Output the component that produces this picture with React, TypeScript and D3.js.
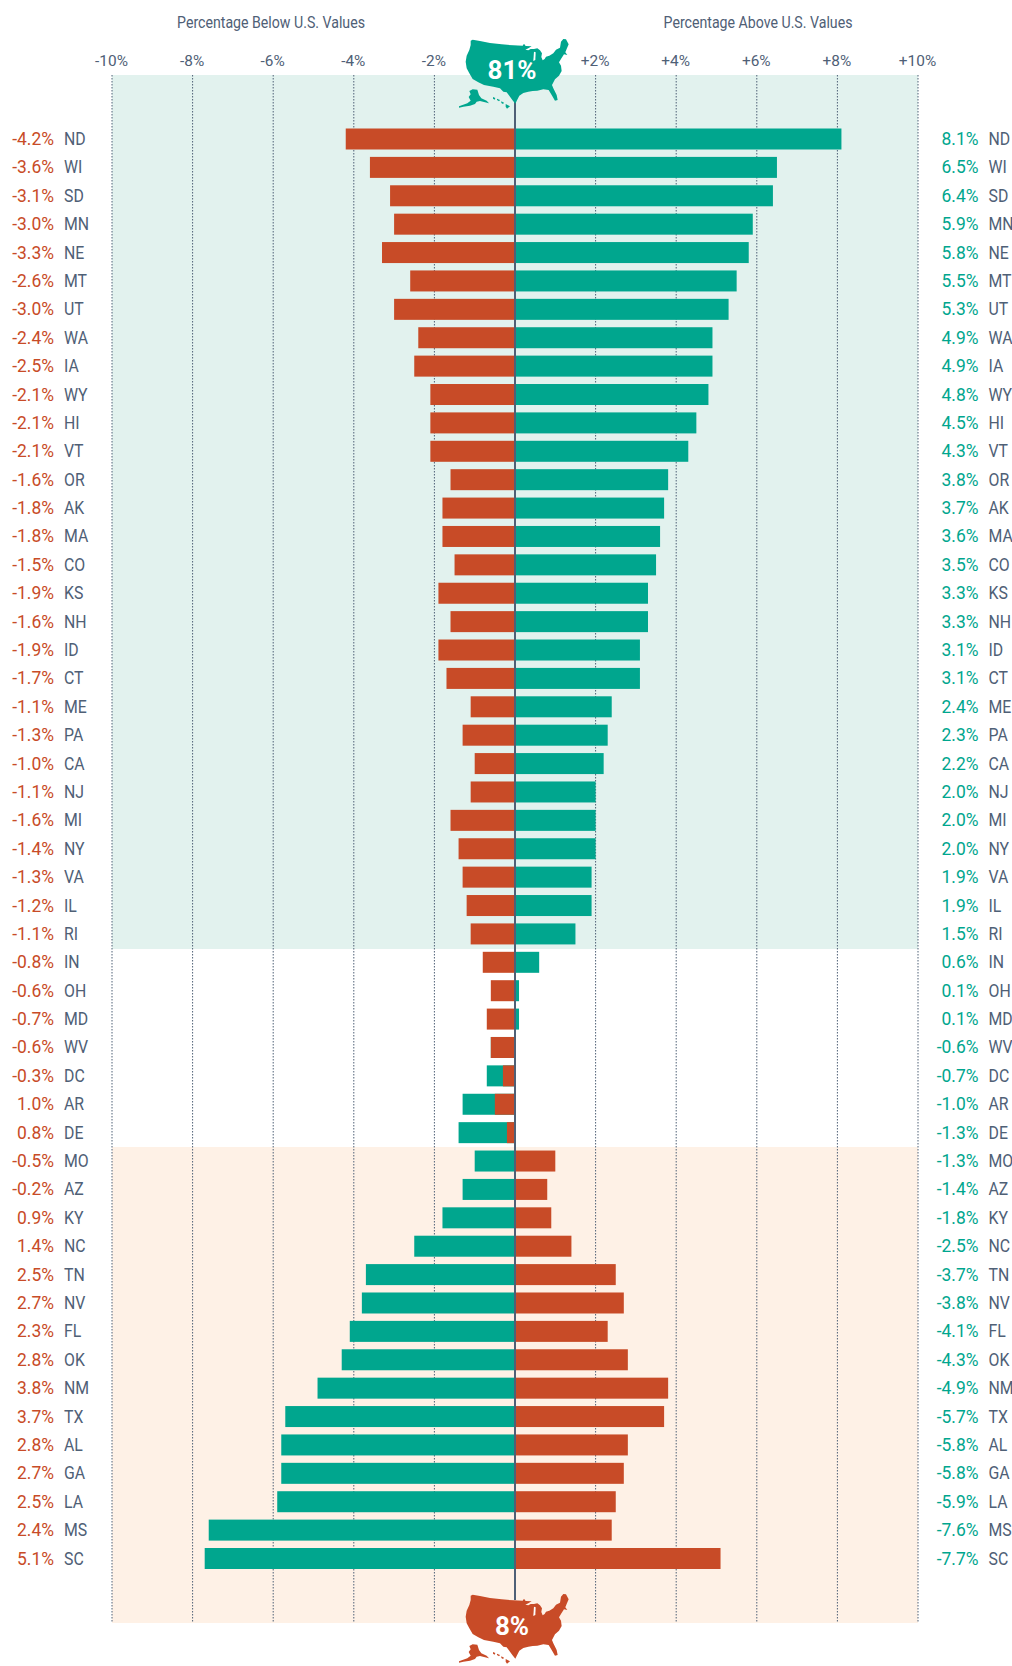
import React from "react";
import * as d3 from "d3";

const states = ["ND","WI","SD","MN","NE","MT","UT","WA","IA","WY","HI","VT","OR","AK","MA","CO","KS","NH","ID","CT","ME","PA","CA","NJ","MI","NY","VA","IL","RI","IN","OH","MD","WV","DC","AR","DE","MO","AZ","KY","NC","TN","NV","FL","OK","NM","TX","AL","GA","LA","MS","SC"];
const leftLabels = ["-4.2%","-3.6%","-3.1%","-3.0%","-3.3%","-2.6%","-3.0%","-2.4%","-2.5%","-2.1%","-2.1%","-2.1%","-1.6%","-1.8%","-1.8%","-1.5%","-1.9%","-1.6%","-1.9%","-1.7%","-1.1%","-1.3%","-1.0%","-1.1%","-1.6%","-1.4%","-1.3%","-1.2%","-1.1%","-0.8%","-0.6%","-0.7%","-0.6%","-0.3%","1.0%","0.8%","-0.5%","-0.2%","0.9%","1.4%","2.5%","2.7%","2.3%","2.8%","3.8%","3.7%","2.8%","2.7%","2.5%","2.4%","5.1%"];
const rightLabels = ["8.1%","6.5%","6.4%","5.9%","5.8%","5.5%","5.3%","4.9%","4.9%","4.8%","4.5%","4.3%","3.8%","3.7%","3.6%","3.5%","3.3%","3.3%","3.1%","3.1%","2.4%","2.3%","2.2%","2.0%","2.0%","2.0%","1.9%","1.9%","1.5%","0.6%","0.1%","0.1%","-0.6%","-0.7%","-1.0%","-1.3%","-1.3%","-1.4%","-1.8%","-2.5%","-3.7%","-3.8%","-4.1%","-4.3%","-4.9%","-5.7%","-5.8%","-5.8%","-5.9%","-7.6%","-7.7%"];
// Bar lengths as drawn (percent); in the AR/DE/MO/AZ rows they differ from the printed labels.
const redBars = [-4.2,-3.6,-3.1,-3.0,-3.3,-2.6,-3.0,-2.4,-2.5,-2.1,-2.1,-2.1,-1.6,-1.8,-1.8,-1.5,-1.9,-1.6,-1.9,-1.7,-1.1,-1.3,-1.0,-1.1,-1.6,-1.4,-1.3,-1.2,-1.1,-0.8,-0.6,-0.7,-0.6,-0.3,-0.5,-0.2,1.0,0.8,0.9,1.4,2.5,2.7,2.3,2.8,3.8,3.7,2.8,2.7,2.5,2.4,5.1];
const greenBars = [8.1,6.5,6.4,5.9,5.8,5.5,5.3,4.9,4.9,4.8,4.5,4.3,3.8,3.7,3.6,3.5,3.3,3.3,3.1,3.1,2.4,2.3,2.2,2.0,2.0,2.0,1.9,1.9,1.5,0.6,0.1,0.1,-0.6,-0.7,-1.3,-1.4,-1.0,-1.3,-1.8,-2.5,-3.7,-3.8,-4.1,-4.3,-4.9,-5.7,-5.8,-5.8,-5.9,-7.6,-7.7];
const ticks = [-10,-8,-6,-4,-2,2,4,6,8,10];

const RED = "#c84b27";
const GREEN = "#00a68e";
const SLATE = "#4f6076";
const FONT = "Roboto, sans-serif";

const x = d3.scaleLinear().domain([-10, 10]).range([112, 918]);
const y = d3.scaleLinear().domain([0, 50]).range([139, 1558.5]);
const BAR_H = 21;

// Icon outlines, traced at 3x and drawn back at 1/3 scale.
const usa: [number, number][] = [[32,17],[38,14],[60,18],[90,24],[125,28],[160,31],[188,32],[192,26],[197,33],[215,34],[205,40],[196,44],[205,46],[212,42],[222,42],[232,40],[240,46],[246,55],[244,66],[248,76],[254,72],[258,65],[268,62],[280,55],[288,44],[300,38],[303,20],[310,12],[318,13],[326,28],[320,42],[316,52],[322,60],[312,58],[303,72],[297,82],[303,92],[305,108],[297,122],[285,133],[276,150],[280,160],[290,180],[293,195],[285,197],[275,180],[266,165],[250,163],[232,167],[218,168],[205,170],[190,174],[178,182],[170,198],[166,206],[157,195],[150,185],[140,172],[130,170],[120,160],[100,155],[72,150],[55,142],[38,132],[28,115],[20,100],[17,80],[20,62],[28,45],[32,30]];
const lake: [number, number][] = [[222,50],[220,78],[226,75],[227,52]];
const alaska: [number, number][] = [[28,168],[38,163],[52,164],[57,180],[64,190],[80,197],[87,205],[72,201],[60,198],[50,200],[45,207],[30,212],[10,215],[-3,218],[-3,214],[22,205],[32,197],[26,186],[32,178]];
const hawaii: [number, number][][] = [
  [[99,186],[106,189],[104,194],[99,191]],
  [[111,191],[120,195],[117,199],[111,195]],
  [[124,199],[132,203],[129,207],[124,204]],
  [[137,207],[150,214],[141,221],[137,215]],
];
const line = d3.line().curve(d3.curveLinearClosed);

function UsaIcon({ ty, fill, label, labelY }: { ty: number; fill: string; label: string; labelY: number }) {
  return (
    <g>
      <g transform={`translate(460,${ty}) scale(0.3333)`} fill={fill}>
        <path d={line(usa) ?? ""} />
        <path d={line(lake) ?? ""} fill="#fff" />
        <path d={line(alaska) ?? ""} />
        {hawaii.map((h, i) => (
          <path key={i} d={line(h) ?? ""} />
        ))}
      </g>
      <text x={512} y={labelY} textAnchor="middle" fill="#fff" fontWeight={700} fontSize={26}>{label}</text>
    </g>
  );
}

function Squeezed({ px, py, size, sx, fill, anchor, children }: { px: number; py: number; size: number; sx: number; fill: string; anchor?: string; children: string }) {
  return (
    <text transform={`translate(${px},${py}) scale(${sx},1)`} textAnchor={anchor} fontSize={size} fill={fill}>{children}</text>
  );
}

export default function App() {
  return (
    <svg width={1012} height={1666} style={{ position: "absolute", left: 0, top: 0, fontFamily: FONT }}>
      <rect x={x(-10)} y={75} width={x(10) - x(-10)} height={874} fill="#e2f2ee" />
      <rect x={x(-10)} y={1147} width={x(10) - x(-10)} height={476} fill="#fef1e6" />
      {ticks.map((t) => (
        <line key={t} x1={x(t)} x2={x(t)} y1={75} y2={1623} stroke={SLATE} strokeWidth={1} strokeDasharray="1.5 1.5" />
      ))}
      {ticks.map((t) => (
        <text key={t} x={x(t) - 0.5} y={66} textAnchor="middle" fontSize={15.4} fill={SLATE}>{t > 0 ? `+${t}%` : `${t}%`}</text>
      ))}
      <Squeezed px={271} py={28} size={16} sx={0.885} fill={SLATE} anchor="middle">Percentage Below U.S. Values</Squeezed>
      <Squeezed px={758} py={28} size={16} sx={0.885} fill={SLATE} anchor="middle">Percentage Above U.S. Values</Squeezed>
      {states.map((s, i) => {
        const cy = y(i);
        const bars = [
          { v: greenBars[i], c: GREEN },
          { v: redBars[i], c: RED },
        ];
        return (
          <g key={s}>
            {bars.map((b) => (
              <rect key={b.c} x={Math.min(x(0), x(b.v))} y={cy - BAR_H / 2} width={Math.abs(x(b.v) - x(0))} height={BAR_H} fill={b.c} />
            ))}
            <Squeezed px={54} py={cy + 6} size={18} sx={0.97} fill={RED} anchor="end">{leftLabels[i]}</Squeezed>
            <Squeezed px={64} py={cy + 6} size={18} sx={0.88} fill={SLATE}>{s}</Squeezed>
            <Squeezed px={978.5} py={cy + 6} size={18} sx={0.97} fill={GREEN} anchor="end">{rightLabels[i]}</Squeezed>
            <Squeezed px={988.5} py={cy + 6} size={18} sx={0.88} fill={SLATE}>{s}</Squeezed>
          </g>
        );
      })}
      <line x1={x(0)} x2={x(0)} y1={95} y2={1600} stroke={SLATE} strokeWidth={2} />
      <UsaIcon ty={35} fill={GREEN} label="81%" labelY={79} />
      <UsaIcon ty={1590} fill={RED} label="8%" labelY={1635} />
    </svg>
  );
}
